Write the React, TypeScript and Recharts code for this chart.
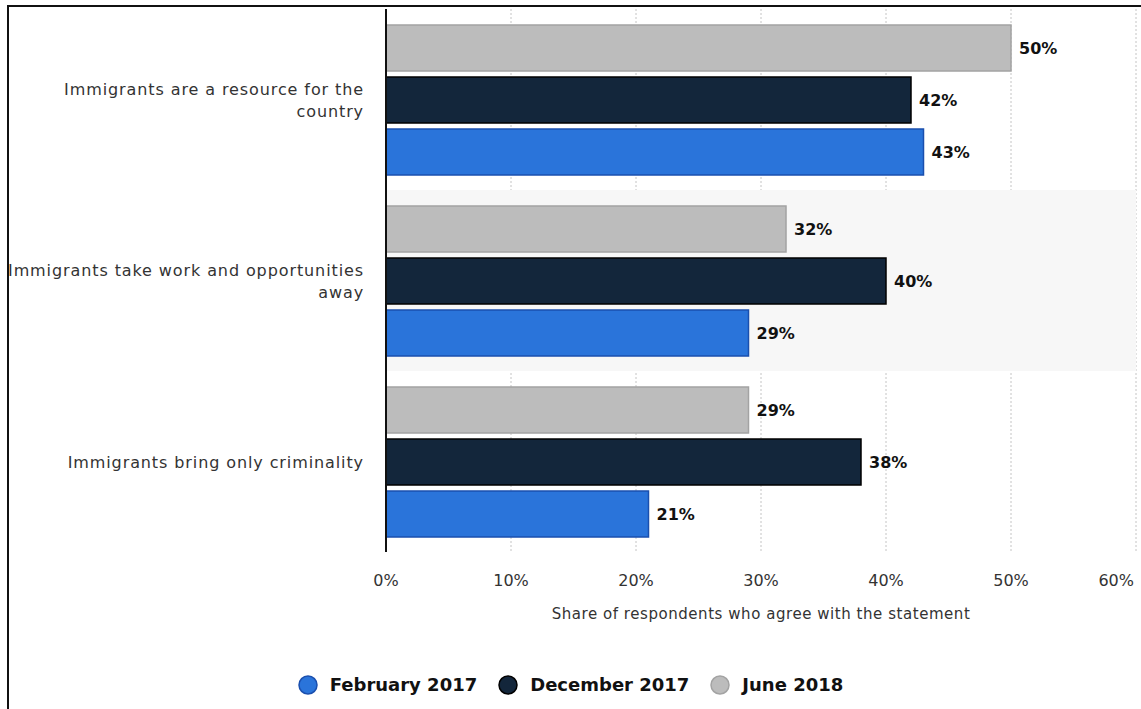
import React from 'react';
import {
  BarChart,
  Bar,
  XAxis,
  YAxis,
  CartesianGrid,
  LabelList,
  Legend,
  ReferenceArea,
} from 'recharts';

const categories = [
  'Immigrants are a resource for the\ncountry',
  'Immigrants take work and opportunities\naway',
  'Immigrants bring only criminality',
];
const feb2017 = [43, 29, 21];
const dec2017 = [42, 40, 38];
const jun2018 = [50, 32, 29];
const xTicks = [0, 10, 20, 30, 40, 50, 60];

const FONT = '"DejaVu Sans", Verdana, sans-serif';

// bars are stacked top-to-bottom in this order inside each group
const barSeries = [
  { key: 'jun2018', name: 'June 2018', fill: '#bcbcbc', stroke: '#a3a3a3' },
  { key: 'dec2017', name: 'December 2017', fill: '#13263b', stroke: '#000000' },
  { key: 'feb2017', name: 'February 2017', fill: '#2a74da', stroke: '#1a4fae' },
];

// legend reads the other way round
const legendOrder = ['feb2017', 'dec2017', 'jun2018'];

const data = categories.map((name, i) => ({
  name,
  feb2017: feb2017[i],
  dec2017: dec2017[i],
  jun2018: jun2018[i],
}));

const CategoryTick = (props: any) => {
  const { x, y, payload } = props;
  const lines = String(payload.value).split('\n');
  const lh = 22;
  const start = y - ((lines.length - 1) * lh) / 2;
  return (
    <text
      x={x - 22}
      y={start}
      textAnchor="end"
      dominantBaseline="central"
      fontSize={16}
      letterSpacing={0.9}
      fill="#333"
      fontFamily={FONT}
    >
      {lines.map((l, i) => (
        <tspan key={i} x={x - 22} y={start + i * lh}>
          {l}
        </tspan>
      ))}
    </text>
  );
};

const PercentTick = (props: any) => {
  const { x, y, payload, index } = props;
  const last = index === xTicks.length - 1;
  return (
    <text
      x={last ? x + 1 : x}
      y={y + 28}
      textAnchor={last ? 'end' : 'middle'}
      dominantBaseline="central"
      fontSize={16}
      fill="#333"
      fontFamily={FONT}
    >
      {`${payload.value}%`}
    </text>
  );
};

const LegendContent = () => (
  <div
    style={{
      display: 'flex',
      justifyContent: 'center',
      alignItems: 'center',
      fontFamily: FONT,
      fontWeight: 'bold',
      fontSize: 18,
      color: '#111',
    }}
  >
    {legendOrder.map((k, i) => {
      const s = barSeries.find((b) => b.key === k)!;
      return (
        <div
          key={k}
          style={{
            display: 'flex',
            alignItems: 'center',
            marginRight: i < legendOrder.length - 1 ? 21 : 0,
          }}
        >
          <svg width={20} height={20} style={{ marginRight: 12 }}>
            <circle cx={10} cy={10} r={9} fill={s.fill} stroke={s.stroke} strokeWidth={1.5} />
          </svg>
          <span>{s.name}</span>
        </div>
      );
    })}
  </div>
);

export default function App() {
  return (
    <div
      style={{
        position: 'fixed',
        left: 0,
        top: 0,
        width: 1141,
        height: 709,
        overflow: 'hidden',
        background: '#fff',
      }}
    >
      <div
        style={{
          position: 'absolute',
          left: 7,
          top: 5,
          width: 1300,
          height: 900,
          border: '2px solid #111',
          overflow: 'hidden',
        }}
      >
        <div style={{ position: 'absolute', left: -9, top: -7 }}>
          <BarChart
            width={1141}
            height={709}
            data={data}
            layout="vertical"
            margin={{ top: 9, right: 5, left: 0, bottom: 0 }}
            barSize={46}
            barGap={6}
          >
            <ReferenceArea
              y1={categories[1]}
              y2={categories[1]}
              x1={0}
              x2={60}
              fill="#f7f7f7"
              fillOpacity={1}
              stroke="none"
            />
            <CartesianGrid
              horizontal={false}
              stroke="#c4c4c4"
              strokeDasharray="2 2"
            />
            <XAxis
              type="number"
              domain={[0, 60]}
              ticks={xTicks}
              axisLine={false}
              tickLine={false}
              tickSize={0}
              tickMargin={0}
              height={157}
              tick={<PercentTick />}
              label={{
                value: 'Share of respondents who agree with the statement',
                position: 'insideTop',
                offset: 56,
                fontSize: 15,
                letterSpacing: 0.55,
                fill: '#333',
                fontFamily: FONT,
              }}
            />
            <YAxis
              type="category"
              dataKey="name"
              width={386}
              axisLine={{ stroke: '#111', strokeWidth: 2 }}
              tickLine={false}
              tickSize={0}
              tickMargin={0}
              tick={<CategoryTick />}
              interval={0}
            />
            {barSeries.map((s) => (
              <Bar
                key={s.key}
                dataKey={s.key}
                name={s.name}
                fill={s.fill}
                stroke={s.stroke}
                strokeWidth={1.5}
                isAnimationActive={false}
              >
                <LabelList
                  dataKey={s.key}
                  position="right"
                  offset={8}
                  formatter={(v: any) => `${v}%`}
                  fontSize={16}
                  fontWeight="bold"
                  fill="#111"
                  fontFamily={FONT}
                />
              </Bar>
            ))}
            <Legend
              layout="horizontal"
              verticalAlign="middle"
              align="center"
              content={<LegendContent />}
              wrapperStyle={{ top: 674, left: 0, width: 1141 }}
            />
          </BarChart>
        </div>
      </div>
    </div>
  );
}
